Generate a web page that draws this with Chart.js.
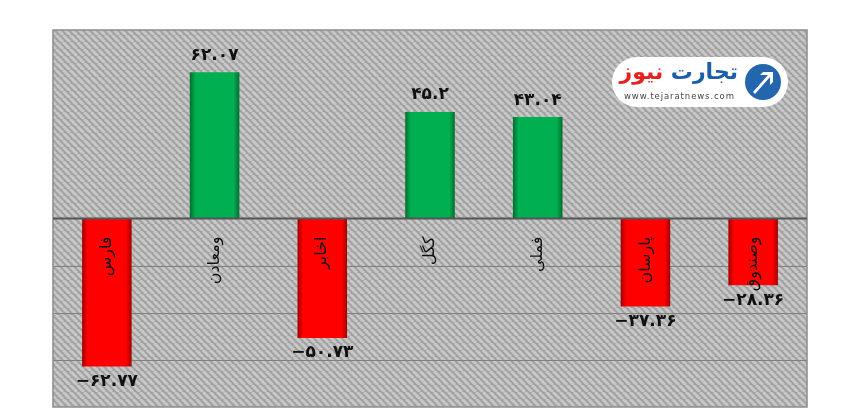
<!DOCTYPE html>
<html lang="fa">
<head>
    <meta charset="UTF-8">
    <script src="https://cdn.jsdelivr.net/npm/chart.js"></script>
    <title>Bar chart</title>
    <style>
        body {
            margin: 0;
            background: #ffffff;
        }

        #wrap {
            position: relative;
            width: 850px;
            height: 420px;
        }

        /* site logo, top right of the plot */
        #logo {
            position: absolute;
            left: 612px;
            top: 57px;
            width: 176px;
            height: 50px;
            background: #ffffff;
            border-radius: 25px;
            font-family: 'DejaVu Sans', sans-serif;
        }

        #logo .name {
            position: absolute;
            right: 50px;
            top: 2px;
            font-size: 22px;
            font-weight: bold;
            direction: rtl;
            white-space: nowrap;
            letter-spacing: -0.5px;
        }

        #logo .url {
            position: absolute;
            left: 12px;
            top: 34px;
            font-size: 8.5px;
            color: #444;
            letter-spacing: 0.9px;
        }

        #logo svg {
            position: absolute;
            right: 6px;
            top: 6px;
        }
    </style>
</head>
<body>
<div id="wrap">
    <canvas id="myChart" width="850" height="420"></canvas>
    <div id="logo">
        <span class="name"><span style="color:#1c5fa8">تجارت</span>&nbsp;<span style="color:#e4221f">نیوز</span></span>
        <span class="url">www.tejaratnews.com</span>
        <svg width="38" height="38" viewBox="0 0 38 38">
            <circle cx="19" cy="19" r="18" fill="#2466ad"/>
            <path d="M9 29 L24 12 L16 12 L19 9 L29 9 L29 19 L26 22 L26 14 L11 31 Z" fill="#ffffff"/>
        </svg>
    </div>
</div>
<script>
    const categories = ['فارس', 'ومعادن', 'اخابر', 'کگل', 'فملی', 'پارسان', 'وصندوق'];
    const values = [-62.77, 62.07, -50.73, 45.2, 43.04, -37.36, -28.36];
    const yTicks = [-80, -60, -40, -20, 0, 20, 40, 60, 80];

    function toPersian(v) {
        const digits = '۰۱۲۳۴۵۶۷۸۹';
        const s = String(Math.abs(v)).replace(/[0-9]/g, d => digits[d]);
        return (v < 0 ? '−' : '') + s;
    }

    // striped grey background
    function makeHatch(ctx) {
        const n = 7;
        const c = document.createElement('canvas');
        c.width = n;
        c.height = n;
        const g = c.getContext('2d');
        g.fillStyle = '#a2a2a2';
        g.fillRect(0, 0, n, n);
        g.strokeStyle = '#c8c8c8';
        g.lineWidth = 3;
        for (let o = -n; o <= n; o += n) {
            g.beginPath();
            g.moveTo(o, 0);
            g.lineTo(o + n, n);
            g.stroke();
        }
        return ctx.createPattern(c, 'repeat');
    }

    function barFill(context) {
        const chart = context.chart;
        const v = values[context.dataIndex];
        const base = v >= 0 ? ['#006b2e', '#00b050'] : ['#a00000', '#ff0000'];
        const xs = chart.scales.x;
        if (!chart.chartArea || !xs) return base[1];
        const cx = xs.getPixelForValue(context.dataIndex);
        const half = 25;
        const grad = chart.ctx.createLinearGradient(cx - half, 0, cx + half, 0);
        grad.addColorStop(0, base[0]);
        grad.addColorStop(0.12, base[1]);
        grad.addColorStop(0.88, base[1]);
        grad.addColorStop(1, base[0]);
        return grad;
    }

    const backdrop = {
        id: 'backdrop',
        beforeDatasetsDraw(chart) {
            const ctx = chart.ctx;
            const a = chart.chartArea;
            const ys = chart.scales.y;
            ctx.save();
            ctx.fillStyle = makeHatch(ctx);
            ctx.fillRect(a.left, a.top, a.right - a.left, a.bottom - a.top);
            // gridlines only show below zero in the original
            ctx.strokeStyle = '#808080';
            ctx.lineWidth = 1.2;
            yTicks.forEach(t => {
                if (t >= 0 || t === yTicks[0]) return;
                const y = Math.round(ys.getPixelForValue(t)) + 0.5;
                ctx.beginPath();
                ctx.moveTo(a.left, y);
                ctx.lineTo(a.right, y);
                ctx.stroke();
            });
            ctx.strokeStyle = '#8c8c8c';
            ctx.lineWidth = 1.5;
            ctx.strokeRect(a.left, a.top, a.right - a.left, a.bottom - a.top);
            ctx.restore();
        },
        afterDatasetsDraw(chart) {
            const ctx = chart.ctx;
            const a = chart.chartArea;
            const xs = chart.scales.x;
            const ys = chart.scales.y;
            const y0 = ys.getPixelForValue(0);
            ctx.save();
            // zero line
            ctx.strokeStyle = '#555555';
            ctx.lineWidth = 2;
            ctx.beginPath();
            ctx.moveTo(a.left, y0);
            ctx.lineTo(a.right, y0);
            ctx.stroke();

            ctx.fillStyle = '#111111';
            values.forEach((v, i) => {
                const x = xs.getPixelForValue(i);
                // category name, rotated
                ctx.save();
                ctx.translate(x, y0 + 18);
                ctx.rotate(-Math.PI / 2);
                ctx.font = '16px "DejaVu Sans"';
                ctx.textAlign = 'right';
                ctx.textBaseline = 'middle';
                ctx.fillText(categories[i], 0, 0);
                ctx.restore();

                // value label
                const yv = ys.getPixelForValue(v);
                ctx.font = 'bold 17px "DejaVu Sans"';
                ctx.textAlign = 'center';
                ctx.textBaseline = 'middle';
                ctx.fillText(toPersian(v), x, v >= 0 ? yv - 17 : yv + 15);
            });
            ctx.restore();
        }
    };

    new Chart(document.getElementById('myChart'), {
        type: 'bar',
        data: {
            labels: categories,
            datasets: [{
                data: values,
                backgroundColor: barFill,
                borderWidth: 0,
                barPercentage: 0.46,
                categoryPercentage: 1
            }]
        },
        options: {
            responsive: false,
            animation: false,
            layout: {
                padding: {left: 53, right: 43, top: 30, bottom: 13}
            },
            plugins: {
                legend: {display: false},
                tooltip: {enabled: false}
            },
            scales: {
                x: {display: false},
                y: {display: false, min: -80, max: 80}
            }
        },
        plugins: [backdrop]
    });
</script>
</body>
</html>
